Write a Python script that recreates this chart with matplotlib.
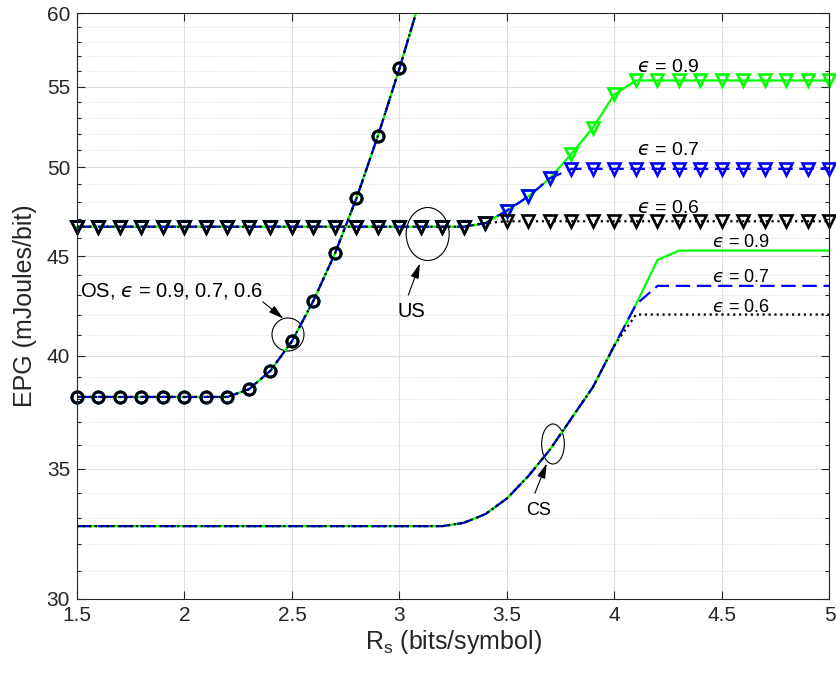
import numpy as np
import matplotlib
matplotlib.use("Agg")
import matplotlib.pyplot as plt
from matplotlib.patches import Ellipse
from matplotlib.ticker import FixedLocator, FixedFormatter, NullFormatter

plt.rcParams['font.family'] = ['Liberation Sans', 'DejaVu Sans']
plt.rcParams['mathtext.fontset'] = 'dejavusans'

# rate axis, 0.1 bits/symbol steps
rs = np.round(np.arange(1.5, 5.01, 0.1), 2)

# OS curves (identical for all three epsilons), shown up to 3.1
rs_os = rs[:17]
epg_os = [38.1, 38.1, 38.1, 38.1, 38.1, 38.1, 38.1, 38.1, 38.45, 39.3,
          40.7, 42.7, 45.15, 48.2, 51.9, 56.2, 61.2]

# US curves
epg_us_09 = [46.6] * 19 + [46.8, 47.5, 48.3, 49.35, 50.8, 52.4, 54.5] + [55.4] * 10
epg_us_07 = [46.6] * 19 + [46.8, 47.5, 48.3, 49.35] + [49.9] * 13
epg_us_06 = [46.6] * 19 + [46.8] + [46.9] * 16

# CS curves
cs_common = [32.7] * 18 + [32.83, 33.17, 33.79, 34.7, 35.8, 37.15, 38.55, 40.5]
epg_cs_09 = cs_common + [42.5, 44.8] + [45.3] * 8
epg_cs_07 = cs_common + [42.5, 43.45] + [43.45] * 8
epg_cs_06 = cs_common + [42.0, 42.0] + [42.0] * 8

styles = {
    '0.9': dict(color=(0, 1, 0), ls='-'),
    '0.7': dict(color=(0, 0, 1), ls=(0, (6.5, 3))),
    '0.6': dict(color='k', ls=':'),
}

fig = plt.figure(figsize=(8.36, 6.73), dpi=100)
ax = fig.add_axes([0.0921, 0.110, 0.9001, 0.8706])

lw = 1.6
for key, cs in zip(['0.9', '0.7', '0.6'], [epg_cs_09, epg_cs_07, epg_cs_06]):
    ax.plot(rs, cs, lw=lw, **styles[key])

for key in ['0.9', '0.7', '0.6']:
    st = styles[key]
    ax.plot(rs_os, epg_os, lw=lw, **st)
    ax.plot(rs_os, np.ma.masked_greater(epg_os, 60), ls='none', marker='o',
            ms=8, mew=2, mfc='none', mec=st['color'], clip_on=False)

for key, us in zip(['0.9', '0.7', '0.6'], [epg_us_09, epg_us_07, epg_us_06]):
    st = styles[key]
    ax.plot(rs, us, lw=lw, marker='v', ms=8.5, mew=1.9, mfc='none',
            mec=st['color'], clip_on=False, **st)

ax.set_yscale('log')
ax.set_xlim(1.5, 5)
ax.set_ylim(30, 60)
ax.set_xticks([1.5, 2, 2.5, 3, 3.5, 4, 4.5, 5])
ax.set_xticklabels(['1.5', '2', '2.5', '3', '3.5', '4', '4.5', '5'])
yt = [30, 35, 40, 45, 50, 55, 60]
ax.yaxis.set_major_locator(FixedLocator(yt))
ax.yaxis.set_major_formatter(FixedFormatter([str(v) for v in yt]))
ax.yaxis.set_minor_locator(FixedLocator([v for v in range(31, 60) if v % 5]))
ax.yaxis.set_minor_formatter(NullFormatter())

tc = (0.15, 0.15, 0.15)
ax.tick_params(which='both', direction='in', top=True, right=True,
               colors=tc, labelsize=15, width=0.8)
ax.tick_params(which='major', length=6, pad=5)
ax.tick_params(which='minor', length=3)
for sp in ax.spines.values():
    sp.set_color(tc)
    sp.set_linewidth(0.8)

ax.grid(True, which='major', color='#dedede', lw=0.8, ls='-')
ax.yaxis.grid(True, which='minor', color='#cfcfcf', lw=0.6, ls=(0, (1, 2)))
ax.set_axisbelow(True)

ax.set_xlabel(r'R$_\mathregular{s}$ (bits/symbol)', fontsize=18, color=tc, labelpad=2)
ax.set_ylabel('EPG (mJoules/bit)', fontsize=18, color=tc, labelpad=7)

# annotations
arrow = dict(arrowstyle='-|>,head_length=0.9,head_width=0.25', color='k',
             lw=0.8, shrinkA=0, shrinkB=0)
eps = '$\u03f5$'  # lunate epsilon, as in the original figure
ax.text(1.515, 42.9, 'OS, ' + eps + ' = 0.9, 0.7, 0.6', fontsize=14.5, va='baseline')
ax.annotate('', xy=(2.46, 41.8), xytext=(2.364, 42.64), arrowprops=arrow)
ax.text(3.056, 41.9, 'US', fontsize=14.5, ha='center', va='baseline')
ax.annotate('', xy=(3.095, 44.62), xytext=(3.041, 42.98), arrowprops=arrow)
ax.text(3.649, 33.14, 'CS', fontsize=13, ha='center', va='baseline')
ax.annotate('', xy=(3.685, 35.22), xytext=(3.63, 34.0), arrowprops=arrow)

# ellipses in axes-fraction units
aw, ah = 752.5, 586.0
for cx, cy, w, h in [(288, 334.5, 32, 33), (427.7, 234, 43, 53), (553, 444, 22.7, 40)]:
    ax.add_patch(Ellipse(((cx - 77) / aw, (599 - cy) / ah), w / aw, h / ah,
                         transform=ax.transAxes, fill=False, ec='k', lw=0.8))

for y, lab in [(55.98, '0.9'), (50.72, '0.7'), (47.34, '0.6')]:
    ax.text(4.103, y, eps + ' = ' + lab, fontsize=14, va='baseline')
for y, lab in [(45.51, '0.9'), (43.66, '0.7'), (42.14, '0.6')]:
    ax.text(4.452, y, eps + ' = ' + lab, fontsize=13, va='baseline')

fig.savefig('out.png', dpi=100)
